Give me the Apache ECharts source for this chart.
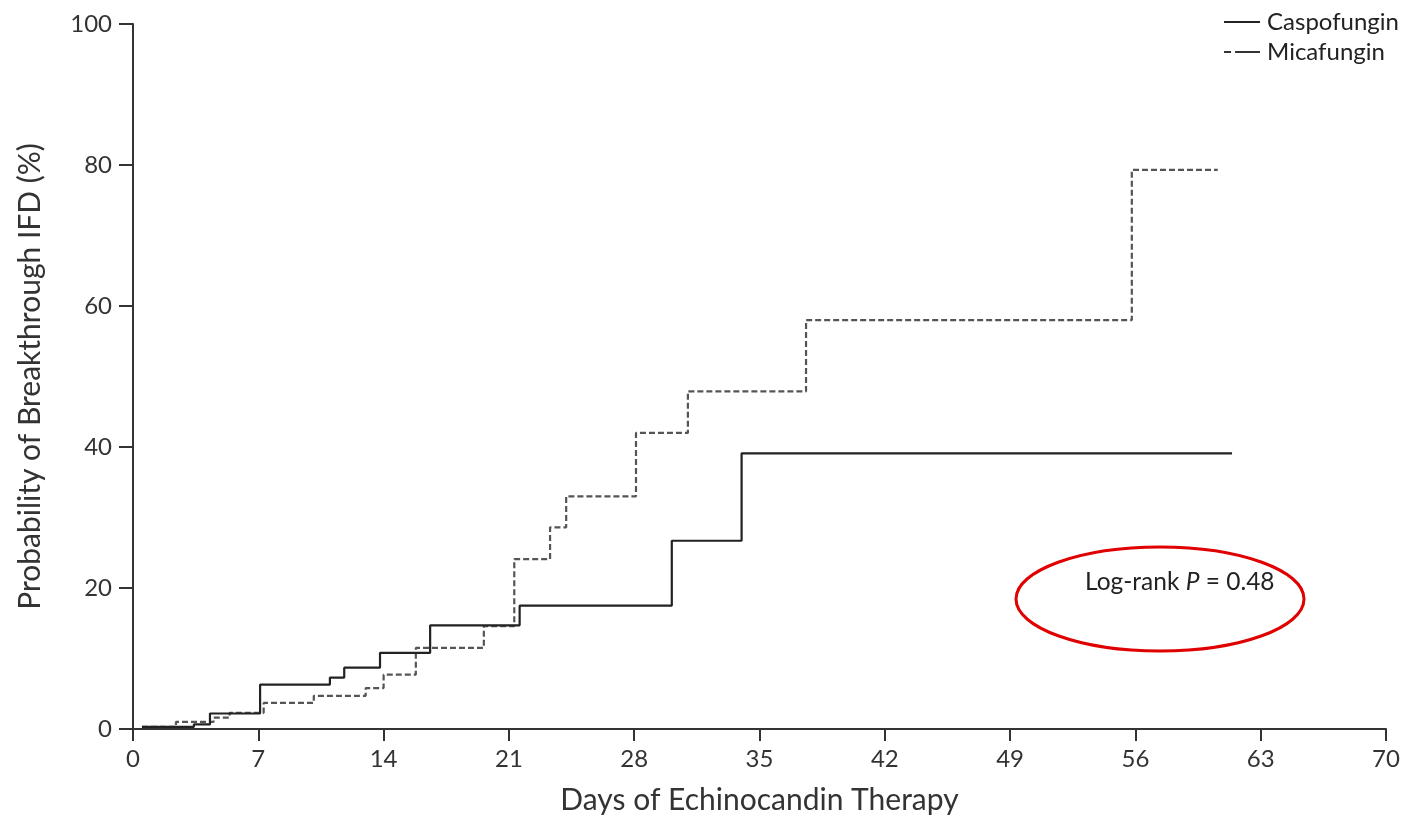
<!DOCTYPE html>
<html>
<head>
<meta charset="utf-8">
<script src="https://cdn.jsdelivr.net/npm/echarts@6/dist/echarts.min.js"></script>
<style>
  html, body { margin: 0; padding: 0; background: #fff; }
  #chart { width: 1406px; height: 819px; }
</style>
</head>
<body>
<div id="chart"></div>
<script>
// Kaplan-Meier style cumulative curves (day of event, cumulative %)
const caspoDays = [0.5, 3.4, 4.3, 7.1, 11.0, 11.8, 13.8, 16.6, 21.6, 30.1, 34.0, 61.4];
const caspoPct  = [0.3, 0.65, 2.2, 6.3, 7.3, 8.7, 10.8, 14.7, 17.5, 26.7, 39.1, 39.1];

const micaDays = [0.5, 2.4, 4.5, 5.4, 7.3, 10.1, 13.0, 14.0, 15.8, 19.6, 21.3, 23.3, 24.2, 28.1, 31.0, 37.6, 55.8, 60.6];
const micaPct  = [0.3, 1.0, 1.6, 2.3, 3.7, 4.7, 5.8, 7.7, 11.5, 14.6, 24.1, 28.6, 33.0, 42.0, 47.9, 58.0, 79.3, 79.3];

const xTicks = [0, 7, 14, 21, 28, 35, 42, 49, 56, 63, 70];
const yTicks = [0, 20, 40, 60, 80, 100];

const fontFam = 'Lato, "Open Sans", sans-serif';
const chart = echarts.init(document.getElementById('chart'));

const zip = (xs, ys) => xs.map((x, i) => [x, ys[i]]);

chart.setOption({
  animation: false,
  backgroundColor: '#fff',
  textStyle: { fontFamily: fontFam },
  grid: { left: 133, right: 20, top: 24, bottom: 90, outerBoundsMode: 'none' },
  legend: {
    orient: 'vertical',
    right: 2,
    top: 5,
    itemWidth: 36,
    itemHeight: 2,
    itemGap: 6,
    textStyle: { fontSize: 24, color: '#222', fontFamily: fontFam, padding: [0, 0, 0, 2] },
    data: [
      { name: 'Caspofungin', icon: 'rect', itemStyle: { color: '#222' } },
      {
        name: 'Micafungin',
        icon: 'path://M0,0h7v2h-7z M11,0h25v2h-25z',
        itemStyle: { color: '#333' }
      }
    ]
  },
  xAxis: {
    type: 'value',
    min: 0,
    max: 70,
    interval: 7,
    name: 'Days of Echinocandin Therapy',
    nameLocation: 'middle',
    nameGap: 56,
    nameTextStyle: { fontSize: 30, color: '#333', fontFamily: fontFam },
    axisLine: { onZero: false, lineStyle: { color: '#333', width: 2 } },
    axisTick: { length: 12, lineStyle: { color: '#333', width: 2 } },
    axisLabel: {
      fontSize: 24, color: '#333', margin: 18,
      formatter: v => xTicks.includes(v) ? String(v) : ''
    },
    splitLine: { show: false }
  },
  yAxis: {
    type: 'value',
    min: 0,
    max: 100,
    interval: 20,
    name: 'Probability of Breakthrough IFD (%)',
    nameLocation: 'middle',
    nameGap: 88,
    nameTextStyle: { fontSize: 30, color: '#333', fontFamily: fontFam },
    axisLine: { show: true, lineStyle: { color: '#333', width: 2 } },
    axisTick: { show: true, length: 14, lineStyle: { color: '#333', width: 2 } },
    axisLabel: {
      fontSize: 24, color: '#333', margin: 21,
      formatter: v => yTicks.includes(v) ? String(v) : ''
    },
    splitLine: { show: false }
  },
  series: [
    {
      name: 'Caspofungin',
      type: 'line',
      step: 'end',
      symbol: 'none',
      data: zip(caspoDays, caspoPct),
      lineStyle: { color: '#222', width: 2.2 },
      itemStyle: { color: '#222' },
      z: 3
    },
    {
      name: 'Micafungin',
      type: 'line',
      step: 'end',
      symbol: 'none',
      data: zip(micaDays, micaPct),
      lineStyle: { color: '#555', width: 2.2, type: [6, 3] },
      itemStyle: { color: '#555' },
      z: 2
    }
  ],
  graphic: [
    {
      type: 'ellipse',
      shape: { cx: 1160, cy: 599, rx: 144, ry: 52 },
      style: { fill: 'none', stroke: '#e00000', lineWidth: 3 },
      z: 10
    },
    {
      type: 'text',
      left: 1085,
      top: 570,
      style: {
        text: '{n|Log-rank }{i|P}{n| = 0.48}',
        rich: {
          n: { fontSize: 24.5, fill: '#222', fontFamily: fontFam },
          i: { fontSize: 24.5, fill: '#222', fontStyle: 'italic', fontFamily: fontFam }
        }
      },
      z: 10
    }
  ]
});
</script>
</body>
</html>
